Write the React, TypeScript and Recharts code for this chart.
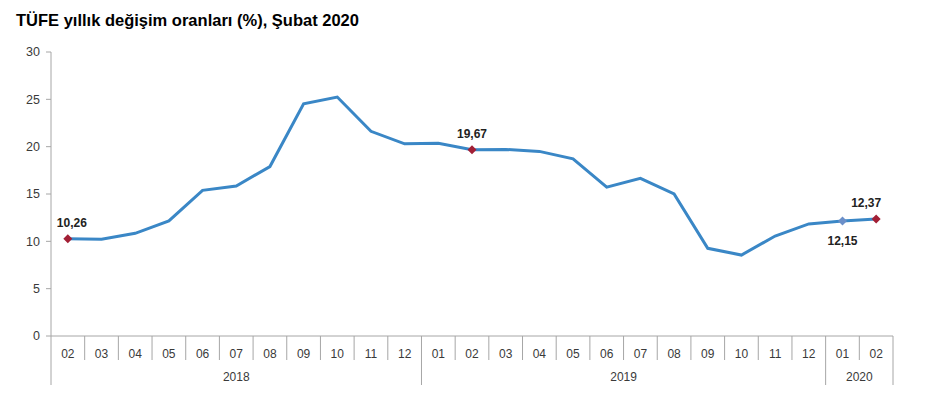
import * as React from 'react';
import { LineChart, Line, XAxis, YAxis } from 'recharts';

// TÜFE yıllık değişim oranları, Şubat 2018 - Şubat 2020
const months = [
  '02', '03', '04', '05', '06', '07', '08', '09', '10', '11', '12',
  '01', '02', '03', '04', '05', '06', '07', '08', '09', '10', '11', '12',
  '01', '02',
];
const years = [
  '2018', '2018', '2018', '2018', '2018', '2018', '2018', '2018', '2018', '2018', '2018',
  '2019', '2019', '2019', '2019', '2019', '2019', '2019', '2019', '2019', '2019', '2019', '2019',
  '2020', '2020',
];
const cpi = [
  10.26, 10.23, 10.85, 12.15, 15.39, 15.85, 17.9, 24.52, 25.24, 21.62, 20.3,
  20.35, 19.67, 19.71, 19.5, 18.71, 15.72, 16.65, 15.01, 9.26, 8.55, 10.56, 11.84,
  12.15, 12.37,
];
const yTicks = [0, 5, 10, 15, 20, 25, 30];
// points that carry a marker and a value label
const highlighted = [0, 12, 23, 24];
const labelBelow = [23];

const data = months.map((m, i) => ({ key: i, month: m, year: years[i], value: cpi[i] }));

const W = 926;
const H = 407;
const xAxisHeight = 52;
const margin = { top: 52, right: 33, left: 11, bottom: H - 336 - xAxisHeight };
const yAxisWidth = 40;
const plotWidth = W - margin.left - margin.right - yAxisWidth;
const band = plotWidth / data.length;

const AXIS = '#a6a6a6';
const LINE = '#3a87c6';
const RED = '#a21f35';
const BLUE = '#6b8fc9';
const TEXT = '#3a3a3a';
const FONT = 'Arial, "Liberation Sans", sans-serif';

const fmt = (v: number) => v.toFixed(2).replace('.', ',');

function MonthTick(props: any) {
  const { x, payload } = props;
  const y = 336;
  const i = payload.index;
  const left = x - band / 2;
  const yearStart = i === 0 || years[i] !== years[i - 1];
  const isLast = i === data.length - 1;
  let yearLabel = null;
  if (yearStart) {
    let n = 0;
    while (i + n < years.length && years[i + n] === years[i]) n++;
    yearLabel = (
      <text x={left + (n * band) / 2} y={y + 45} textAnchor="middle" fontSize={12} fill={TEXT} fontFamily={FONT}>
        {years[i]}
      </text>
    );
  }
  return (
    <g>
      <line x1={left} y1={y} x2={left} y2={yearStart ? y + 49 : y + 24} stroke={AXIS} />
      {isLast && <line x1={x + band / 2} y1={y} x2={x + band / 2} y2={y + 49} stroke={AXIS} />}
      <text x={x} y={y + 22} textAnchor="middle" fontSize={12} fill={TEXT} fontFamily={FONT}>
        {months[i]}
      </text>
      {yearLabel}
    </g>
  );
}

function PointMark(props: any) {
  const { cx, cy, index, value } = props;
  if (!highlighted.includes(index)) return <g key={index} />;
  const color = index === 23 ? BLUE : RED;
  const r = 4.5;
  const below = labelBelow.includes(index);
  const dx = index === 0 ? 4 : index === 24 ? -10 : 0;
  return (
    <g key={index}>
      <path d={`M${cx},${cy - r} L${cx + r},${cy} L${cx},${cy + r} L${cx - r},${cy} Z`} fill={color} />
      <text
        x={cx + dx}
        y={below ? cy + 24 : cy - 12}
        textAnchor="middle"
        fontSize={12}
        fontWeight="bold"
        fill="#222"
        fontFamily={FONT}
      >
        {fmt(value)}
      </text>
    </g>
  );
}

export default function App() {
  return (
    <div style={{ position: 'absolute', left: 0, top: 0, width: W, height: H, background: '#fff', fontFamily: FONT }}>
      <div style={{ position: 'absolute', left: 16, top: 11, fontSize: 16.5, fontWeight: 'bold', color: '#000' }}>
        TÜFE yıllık değişim oranları (%), Şubat 2020
      </div>
      <LineChart width={W} height={H} data={data} margin={margin}>
        <XAxis
          dataKey="key"
          type="category"
          scale="band"
          interval={0}
          tick={(p: any) => <MonthTick {...p} />}
          tickLine={false}
          axisLine={{ stroke: AXIS }}
          height={xAxisHeight}
        />
        <YAxis
          domain={[0, 30]}
          ticks={yTicks}
          width={yAxisWidth}
          axisLine={{ stroke: AXIS }}
          tickLine={{ stroke: AXIS }}
          tickSize={5}
          tickMargin={6}
          tick={{ fontSize: 12.5, fill: TEXT, fontFamily: FONT }}
        />
        <Line
          dataKey="value"
          stroke={LINE}
          strokeWidth={3}
          dot={PointMark}
          activeDot={false}
          isAnimationActive={false}
        />
      </LineChart>
    </div>
  );
}
